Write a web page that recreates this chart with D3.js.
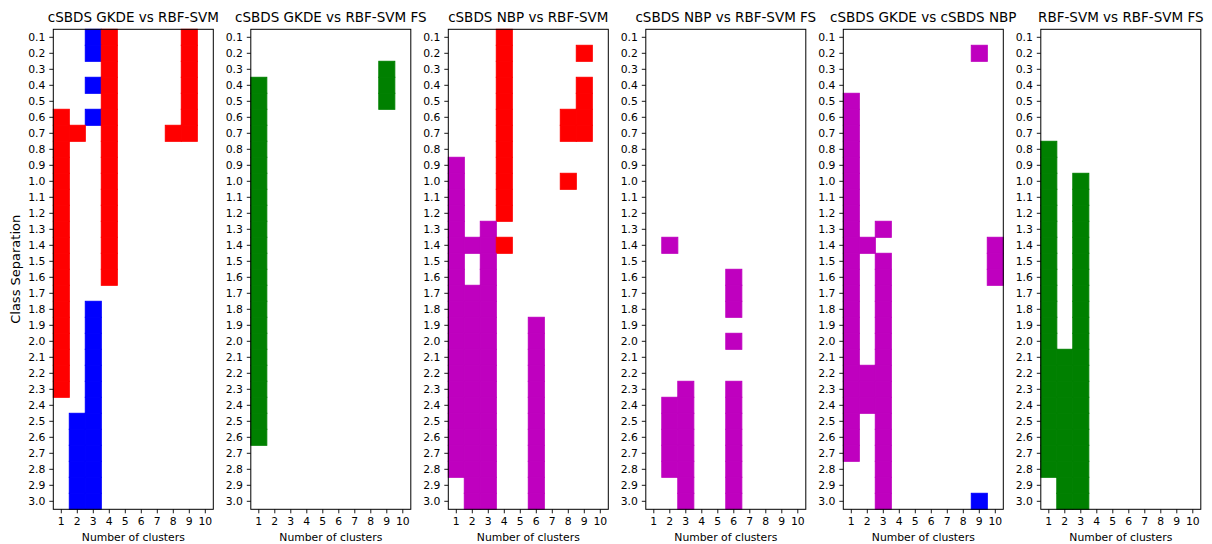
<html>
<head>
<meta charset="utf-8">
<script src="https://d3js.org/d3.v7.min.js"></script>
<style>
  body { margin: 0; background: #fff; }
  text { font-family: "DejaVu Sans", sans-serif; fill: #000; }
</style>
</head>
<body>
<svg id="chart" width="1212" height="544"></svg>
<script>
// number of clusters (columns) and class separation (rows)
const clusters = [1, 2, 3, 4, 5, 6, 7, 8, 9, 10];
const separations = ["0.1","0.2","0.3","0.4","0.5","0.6","0.7","0.8","0.9","1.0",
  "1.1","1.2","1.3","1.4","1.5","1.6","1.7","1.8","1.9","2.0",
  "2.1","2.2","2.3","2.4","2.5","2.6","2.7","2.8","2.9","3.0"];

const titles = ["cSBDS GKDE vs RBF-SVM", "cSBDS GKDE vs RBF-SVM FS", "cSBDS NBP vs RBF-SVM",
  "cSBDS NBP vs RBF-SVM FS", "cSBDS GKDE vs cSBDS NBP", "RBF-SVM vs RBF-SVM FS"];

// one string per separation row, one char per cluster: . none, r red, b blue, g green, m magenta
const gkdeVsSvm = [
  "..br....r.", "..br....r.", "...r....r.", "..br....r.", "...r....r.",
  "r.br....r.", "rr.r...rr.", "r..r......", "r..r......", "r..r......",
  "r..r......", "r..r......", "r..r......", "r..r......", "r..r......",
  "r..r......", "r.........", "r.b.......", "r.b.......", "r.b.......",
  "r.b.......", "r.b.......", "r.b.......", "..b.......", ".bb.......",
  ".bb.......", ".bb.......", ".bb.......", ".bb.......", ".bb......."];
const gkdeVsSvmFs = [
  "..........", "..........", "........g.", "g.......g.", "g.......g.",
  "g.........", "g.........", "g.........", "g.........", "g.........",
  "g.........", "g.........", "g.........", "g.........", "g.........",
  "g.........", "g.........", "g.........", "g.........", "g.........",
  "g.........", "g.........", "g.........", "g.........", "g.........",
  "g.........", "..........", "..........", "..........", ".........."];
const nbpVsSvm = [
  "...r......", "...r....r.", "...r......", "...r....r.", "...r....r.",
  "...r...rr.", "...r...rr.", "...r......", "m..r......", "m..r...r..",
  "m..r......", "m..r......", "m.m.......", "mmmr......", "m.m.......",
  "m.m.......", "mmm.......", "mmm.......", "mmm..m....", "mmm..m....",
  "mmm..m....", "mmm..m....", "mmm..m....", "mmm..m....", "mmm..m....",
  "mmm..m....", "mmm..m....", "mmm..m....", ".mm..m....", ".mm..m...."];
const nbpVsSvmFs = [
  "..........", "..........", "..........", "..........", "..........",
  "..........", "..........", "..........", "..........", "..........",
  "..........", "..........", "..........", ".m........", "..........",
  ".....m....", ".....m....", ".....m....", "..........", ".....m....",
  "..........", "..........", "..m..m....", ".mm..m....", ".mm..m....",
  ".mm..m....", ".mm..m....", ".mm..m....", "..m..m....", "..m..m...."];
const gkdeVsNbp = [
  "..........", "........m.", "..........", "..........", "m.........",
  "m.........", "m.........", "m.........", "m.........", "m.........",
  "m.........", "m.........", "m.m.......", "mm.......m", "m.m......m",
  "m.m......m", "m.m.......", "m.m.......", "m.m.......", "m.m.......",
  "m.m.......", "mmm.......", "mmm.......", "mmm.......", "m.m.......",
  "m.m.......", "m.m.......", "..m.......", "..m.......", "..m.....b."];
const svmVsSvmFs = [
  "..........", "..........", "..........", "..........", "..........",
  "..........", "..........", "g.........", "g.........", "g.g.......",
  "g.g.......", "g.g.......", "g.g.......", "g.g.......", "g.g.......",
  "g.g.......", "g.g.......", "g.g.......", "g.g.......", "g.g.......",
  "ggg.......", "ggg.......", "ggg.......", "ggg.......", "ggg.......",
  "ggg.......", "ggg.......", "ggg.......", ".gg.......", ".gg......."];

const grids = [gkdeVsSvm, gkdeVsSvmFs, nbpVsSvm, nbpVsSvmFs, gkdeVsNbp, svmVsSvmFs];
const colours = { r: "#ff0000", b: "#0000ff", g: "#008000", m: "#bf00bf" };

const svg = d3.select("#chart");
const left0 = 53.3, step = 197.5, w = 160, top0 = 29.3, h = 480;

const x = d3.scaleBand().domain(clusters).range([0, w]);
const y = d3.scaleBand().domain(separations).range([0, h]);

grids.forEach((grid, p) => {
  const g = svg.append("g").attr("transform", `translate(${left0 + p * step},${top0})`);

  const cells = [];
  grid.forEach((row, i) => {
    row.split("").forEach((c, j) => {
      if (c !== ".") cells.push({ sep: separations[i], k: clusters[j], c: c });
    });
  });

  g.selectAll("rect.cell")
    .data(cells)
    .enter()
    .append("rect")
    .attr("class", "cell")
    .attr("x", d => x(d.k))
    .attr("y", d => y(d.sep))
    .attr("width", x.bandwidth())
    .attr("height", y.bandwidth())
    .attr("fill", d => colours[d.c])
    .attr("stroke", d => colours[d.c])
    .attr("stroke-width", 1);

  const ya = g.append("g")
    .call(d3.axisLeft(y).tickSize(4).tickPadding(4));
  const xa = g.append("g")
    .attr("transform", `translate(0,${h})`)
    .call(d3.axisBottom(x).tickSize(4).tickPadding(4.5));
  [ya, xa].forEach(a => {
    a.select(".domain").remove();
    a.selectAll("text").style("font-size", "10.8px").style("font-family", "DejaVu Sans");
    a.selectAll("line").attr("stroke", "#000").attr("stroke-width", 0.9);
  });

  g.append("rect")
    .attr("width", w).attr("height", h)
    .attr("fill", "none").attr("stroke", "#000").attr("stroke-width", 1);

  g.append("text")
    .attr("x", w / 2).attr("y", -7)
    .attr("text-anchor", "middle")
    .style("font-size", "13.5px")
    .text(titles[p]);

  g.append("text")
    .attr("x", w / 2).attr("y", h + 31.5)
    .attr("text-anchor", "middle")
    .style("font-size", "10.8px")
    .text("Number of clusters");
});

svg.append("text")
  .attr("transform", `translate(20,${top0 + h / 2}) rotate(-90)`)
  .attr("text-anchor", "middle")
  .style("font-size", "13px")
  .text("Class Separation");
</script>
</body>
</html>
